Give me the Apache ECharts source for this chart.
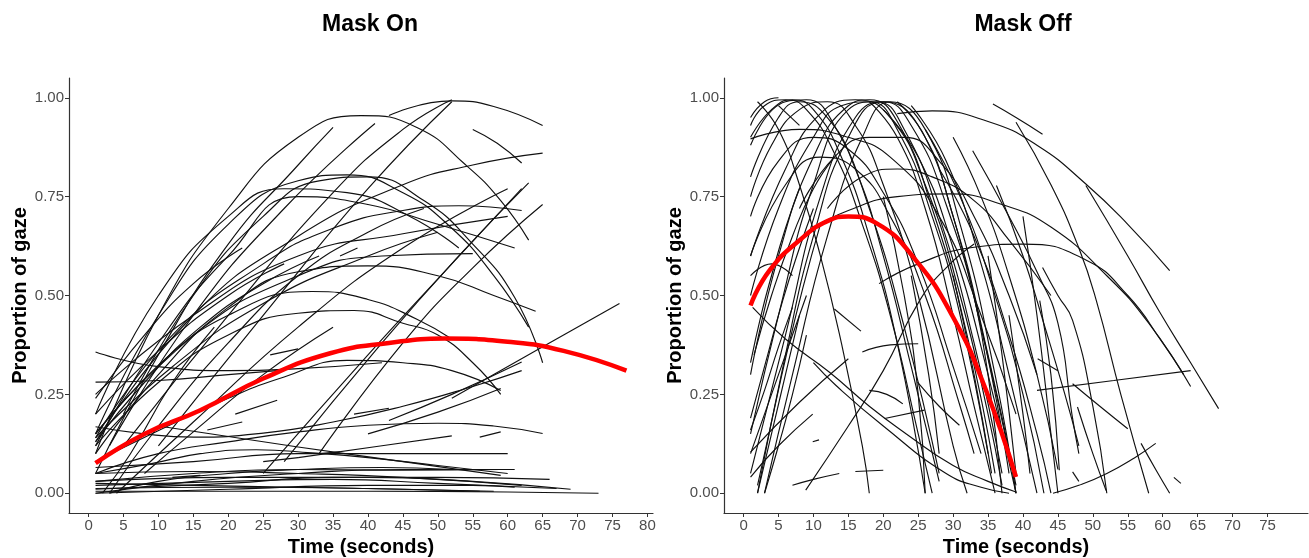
<!DOCTYPE html>
<html>
<head>
<meta charset="utf-8">
<title>Mask On / Mask Off gaze</title>
<script src="https://cdn.jsdelivr.net/npm/echarts@6/dist/echarts.min.js"></script>
<style>
  html, body { margin: 0; padding: 0; background: #fff; }
  #chart { width: 1309px; height: 558px; }
</style>
</head>
<body>
<div id="chart"></div>
<script>
// x ticks (seconds) and y ticks (proportion)
const xTicksOn = [0, 5, 10, 15, 20, 25, 30, 35, 40, 45, 50, 55, 60, 65, 70, 75, 80];
const xTicksOff = [0, 5, 10, 15, 20, 25, 30, 35, 40, 45, 50, 55, 60, 65, 70, 75];
const yTicks = [0, 0.25, 0.5, 0.75, 1];

// group mean curves (red)
const maskOnMean = [[1, 0.076], [8, 0.15], [16, 0.21], [25, 0.29], [34.6, 0.354], [43, 0.38], [51, 0.391], [60, 0.383], [68, 0.36], [77, 0.31]];
const maskOffMean = [[1, 0.475], [3.7, 0.563], [8.5, 0.647], [12, 0.688], [15, 0.7], [19, 0.683], [24.7, 0.588], [30, 0.445], [34.5, 0.27], [39, 0.041]];

// individual trial curves (black), each is a list of [time, proportion]
const maskOnTrials = [
  [[1, 0.1], [10, 0.45], [20, 0.72], [30, 0.9], [39, 0.955], [47, 0.925], [54, 0.83], [59, 0.74], [63, 0.64]],
  [[43, 0.955], [52, 0.992], [58, 0.978], [65, 0.93]],
  [[5, 0.12], [20, 0.45], [35, 0.76], [45, 0.92], [52, 0.995]],
  [[10, 0.12], [25, 0.45], [40, 0.77], [52, 0.99]],
  [[1, 0.05], [10, 0.35], [20, 0.63], [30, 0.83], [35, 0.925]],
  [[3, 0.12], [15, 0.45], [28, 0.72], [41, 0.935]],
  [[1, 0.15], [10, 0.45], [20, 0.68], [30, 0.79], [37, 0.805], [45, 0.76], [52, 0.67], [58, 0.55], [63, 0.42]],
  [[1, 0.2], [10, 0.5], [20, 0.7], [28, 0.77], [37, 0.76], [46, 0.7], [53, 0.62]],
  [[25, 0.05], [40, 0.35], [52, 0.58], [62, 0.77]],
  [[28, 0.08], [42, 0.38], [53, 0.6], [63, 0.785]],
  [[33, 0.1], [45, 0.38], [55, 0.57], [65, 0.73]],
  [[4, 0.0], [15, 0.18], [30, 0.42], [45, 0.62], [60, 0.77]],
  [[1, 0.13], [15, 0.45], [30, 0.65], [45, 0.78], [55, 0.83], [65, 0.86]],
  [[55, 0.92], [58.5, 0.885], [62, 0.835]],
  [[5, 0.2], [15, 0.5], [25, 0.7], [33, 0.79], [40, 0.8], [48, 0.74], [55, 0.63], [61, 0.495], [65, 0.33]],
  [[1, 0.14], [12, 0.4], [25, 0.58], [35, 0.67], [45, 0.715], [53, 0.727], [62, 0.715]],
  [[1, 0.25], [15, 0.45], [30, 0.6], [45, 0.656], [60, 0.7]],
  [[1, 0.12], [10, 0.38], [20, 0.6], [30, 0.75], [40, 0.73], [50, 0.68], [61, 0.62]],
  [[1, 0.15], [15, 0.4], [30, 0.55], [42, 0.6], [55, 0.606]],
  [[1, 0.1], [10, 0.3], [20, 0.47], [30, 0.56], [40, 0.575], [50, 0.55], [58, 0.5], [64, 0.46]],
  [[1, 0.15], [10, 0.32], [20, 0.45], [32, 0.51], [40, 0.49], [47, 0.44], [52, 0.39]],
  [[1, 0.12], [10, 0.28], [20, 0.4], [30, 0.455], [38, 0.462], [45, 0.43], [50, 0.4], [55, 0.33], [59, 0.25]],
  [[1, 0.08], [9, 0.15], [20, 0.24], [28, 0.294], [37, 0.336], [45, 0.33], [52, 0.31], [59, 0.26]],
  [[1, 0.168], [8, 0.15], [15, 0.142], [25, 0.152], [35, 0.18], [45, 0.22], [55, 0.27], [62, 0.31]],
  [[1, 0.357], [10, 0.32], [20, 0.31], [30, 0.315], [42, 0.33]],
  [[1, 0.281], [10, 0.285], [20, 0.3], [27, 0.31]],
  [[1, 0.05], [10, 0.1], [20, 0.13], [30, 0.155], [40, 0.172], [50, 0.177], [58, 0.17], [65, 0.151]],
  [[1, 0.05], [9, 0.075], [16, 0.1], [24, 0.11], [32, 0.102], [40, 0.09], [50, 0.07], [60, 0.05]],
  [[1, 0.065], [15, 0.08], [30, 0.1], [45, 0.1], [60, 0.1]],
  [[10, 0.17], [30, 0.117], [45, 0.08], [59, 0.045]],
  [[30, 0.09], [42, 0.12], [52, 0.145]],
  [[1, 0.005], [20, 0.005], [40, 0.005], [60, 0.003], [73, 0.0]],
  [[1, 0.03], [20, 0.04], [40, 0.04], [55, 0.03], [69, 0.01]],
  [[1, 0.02], [20, 0.03], [35, 0.035], [50, 0.025], [67, 0.012]],
  [[1, 0.01], [20, 0.025], [35, 0.04], [50, 0.04], [66, 0.035]],
  [[1, 0.0], [15, 0.03], [30, 0.05], [45, 0.06], [61, 0.06]],
  [[1, 0.03], [15, 0.05], [30, 0.06], [45, 0.058], [59, 0.06]],
  [[1, 0.0], [20, 0.01], [40, 0.02], [55, 0.02], [61, 0.015]],
  [[3, 0.0], [10, 0.03], [20, 0.05], [30, 0.06], [42, 0.065], [52, 0.06]],
  [[1, 0.025], [15, 0.02], [30, 0.015], [45, 0.01], [58, 0.005]],
  [[1, 0.05], [15, 0.055], [30, 0.05], [45, 0.04], [62, 0.02]],
  [[1, 0.012], [20, 0.015], [40, 0.012], [56, 0.005]],
  [[52, 0.24], [64, 0.36], [76, 0.48]],
  [[43, 0.184], [52, 0.25], [62, 0.332]],
  [[40, 0.15], [50, 0.205], [59, 0.265]],
  [[56, 0.142], [59, 0.155]],
  [[1, 0.24], [8, 0.4], [15, 0.53], [22, 0.62]],
  [[1, 0.13], [8, 0.28], [16, 0.42], [25, 0.53], [33, 0.6]],
  [[2, 0.0], [6, 0.1], [12, 0.28], [18, 0.42]],
  [[1, 0.2], [10, 0.36], [20, 0.5], [28, 0.58]],
  [[1, 0.14], [12, 0.32], [25, 0.48], [40, 0.6], [50, 0.66]],
  [[36, 0.6], [38.5, 0.62]],
  [[3, 0.0], [10, 0.17], [20, 0.38], [30, 0.55], [40, 0.66], [48, 0.72]],
  [[8, 0.05], [15, 0.155], [25, 0.3], [35, 0.42]],
  [[26, 0.35], [30, 0.365]],
  [[21, 0.2], [27, 0.235]],
  [[17, 0.16], [22, 0.18]],
  [[38, 0.2], [43, 0.215]],
  [[25, 0.08], [30, 0.09]],
  [[33, 0.1], [36, 0.105]],
  [[12, 0.04], [16, 0.045]]
];

const maskOffTrials = [
  [[1, 0.9], [4, 0.97], [7, 0.995], [10, 0.97], [14, 0.85], [18, 0.65], [22, 0.38], [26, 0.0]],
  [[1, 0.93], [3, 0.98], [6, 0.995], [9, 0.97], [13, 0.86], [17, 0.68], [21, 0.45], [25, 0.15], [27, 0.0]],
  [[1, 0.8], [5, 0.95], [8, 0.99], [12, 0.95], [16, 0.82], [20, 0.6], [24, 0.32], [28, 0.03]],
  [[1, 0.88], [6, 0.99], [9, 0.995], [13, 0.93], [18, 0.72], [23, 0.42], [28, 0.05]],
  [[1, 0.75], [4, 0.88], [8, 0.97], [12, 0.99], [16, 0.93], [20, 0.78], [25, 0.5], [30, 0.12], [32, 0.0]],
  [[1, 0.15], [5, 0.45], [10, 0.78], [15, 0.97], [19, 0.99], [23, 0.92], [28, 0.7], [33, 0.38], [37, 0.05]],
  [[1, 0.3], [5, 0.6], [10, 0.85], [15, 0.98], [18, 0.995], [22, 0.94], [27, 0.72], [32, 0.4], [36, 0.05]],
  [[2, 0.0], [6, 0.35], [10, 0.65], [15, 0.9], [20, 0.99], [25, 0.93], [30, 0.7], [35, 0.35], [39, 0.02]],
  [[3, 0.0], [7, 0.3], [12, 0.65], [17, 0.9], [21, 0.99], [26, 0.92], [31, 0.68], [36, 0.3], [39, 0.0]],
  [[1, 0.05], [6, 0.4], [11, 0.75], [16, 0.95], [20, 0.99], [24, 0.93], [29, 0.73], [34, 0.42], [38, 0.05]],
  [[1, 0.5], [5, 0.72], [10, 0.9], [14, 0.98], [18, 0.99], [22, 0.92], [27, 0.7], [31, 0.45], [35, 0.1]],
  [[1, 0.6], [6, 0.82], [11, 0.96], [16, 0.995], [21, 0.95], [26, 0.78], [31, 0.5], [35, 0.2], [37, 0.02]],
  [[1, 0.7], [5, 0.84], [10, 0.9], [15, 0.87], [20, 0.76], [25, 0.58], [30, 0.32], [34, 0.1]],
  [[1, 0.6], [6, 0.78], [11, 0.85], [16, 0.82], [21, 0.7], [26, 0.5], [31, 0.22], [33, 0.1]],
  [[1, 0.896], [8, 0.92], [15, 0.9], [21, 0.85], [28, 0.7], [34, 0.45], [39, 0.2]],
  [[8, 0.72], [13, 0.85], [18, 0.9], [23, 0.9], [28, 0.84], [33, 0.7], [38, 0.5], [42, 0.3]],
  [[18, 0.99], [22, 0.9], [26, 0.72], [30, 0.45], [33, 0.22], [36, 0.0]],
  [[22, 0.99], [26, 0.9], [30, 0.7], [34, 0.42], [38, 0.1], [39, 0.0]],
  [[20, 0.97], [25, 0.85], [30, 0.62], [35, 0.3], [39, 0.0]],
  [[24, 0.98], [29, 0.84], [34, 0.58], [38, 0.3], [42, 0.0]],
  [[26, 0.92], [31, 0.75], [36, 0.5], [40, 0.25], [43, 0.0]],
  [[28, 0.82], [33, 0.65], [38, 0.4], [42, 0.15], [44, 0.0]],
  [[30, 0.9], [34, 0.75], [38, 0.55], [42, 0.3], [45, 0.06]],
  [[32.8, 0.866], [38, 0.7], [42, 0.56], [45, 0.43], [47, 0.2], [48, 0.1]],
  [[39, 0.938], [44, 0.78], [48, 0.62], [50.5, 0.487], [54, 0.25], [58, 0.0]],
  [[36.2, 0.778], [40, 0.6], [42.8, 0.44], [46, 0.25], [48, 0.12]],
  [[42.8, 0.571], [45, 0.5], [47.1, 0.437], [50, 0.22], [52, 0.0]],
  [[35.7, 0.984], [39, 0.95], [42.8, 0.908]],
  [[22, 0.96], [27, 0.967], [35, 0.94], [42, 0.88], [49, 0.782], [55, 0.68], [61, 0.563]],
  [[49, 0.778], [55, 0.6], [59.5, 0.46], [64, 0.33], [68, 0.214]],
  [[10, 0.67], [15, 0.715], [22, 0.75], [29.5, 0.757], [37, 0.73], [44, 0.673], [52, 0.55], [58, 0.43], [64, 0.27]],
  [[19.4, 0.53], [25, 0.58], [33, 0.622], [40, 0.63], [49, 0.59], [55, 0.5], [60, 0.38], [63, 0.3]],
  [[12, 0.72], [17, 0.8], [22, 0.82], [27, 0.8], [33, 0.74], [38, 0.64], [44, 0.5]],
  [[1.3, 0.47], [6, 0.39], [12.3, 0.306], [18, 0.22], [23.3, 0.15], [30, 0.07], [35, 0.03], [39, 0.003]],
  [[10, 0.33], [13.2, 0.273], [20, 0.17], [29, 0.05], [34, 0.015], [38, 0.0]],
  [[8.9, 0.008], [15, 0.17], [20, 0.31], [25.2, 0.487], [29, 0.57], [33, 0.63]],
  [[1, 0.104], [8, 0.23], [15, 0.34]],
  [[1, 0.041], [5, 0.12], [9.9, 0.2]],
  [[7, 0.02], [10, 0.035], [13.7, 0.05]],
  [[16, 0.055], [20, 0.058]],
  [[17, 0.357], [21, 0.375], [25, 0.378]],
  [[20.2, 0.189], [25.9, 0.21]],
  [[18, 0.26], [20.5, 0.25], [22.8, 0.226]],
  [[24.9, 0.281], [28, 0.22], [30.9, 0.172]],
  [[13, 0.466], [16.8, 0.41]],
  [[44.3, 0.0], [48, 0.02], [52, 0.05], [56, 0.09], [59, 0.126]],
  [[42, 0.26], [53, 0.285], [64, 0.31]],
  [[42.4, 0.487], [44, 0.3], [45.2, 0.058]],
  [[47.8, 0.218], [50, 0.1], [51.9, 0.007]],
  [[42.1, 0.34], [45, 0.31]],
  [[47.1, 0.277], [51, 0.22], [55, 0.163]],
  [[56.9, 0.126], [59, 0.06], [61, 0.0]],
  [[61.6, 0.04], [62.6, 0.025]],
  [[47.1, 0.054], [48, 0.03]],
  [[1, 0.19], [3, 0.32], [5.6, 0.487], [8, 0.62], [10, 0.72]],
  [[1.5, 0.35], [4, 0.5], [7, 0.65], [10, 0.77], [13, 0.85]],
  [[2, 0.0], [4, 0.15], [6, 0.3], [8, 0.45]],
  [[3, 0.0], [5, 0.12], [7, 0.25], [9, 0.4]],
  [[1, 0.1], [3, 0.2], [5, 0.3], [7, 0.4], [9, 0.5]],
  [[2, 0.99], [5, 0.92], [8, 0.78], [11, 0.6], [14, 0.38], [17, 0.12], [18, 0.0]],
  [[1, 0.55], [4, 0.58], [7, 0.55]],
  [[9.9, 0.13], [10.8, 0.135]],
  [[1, 0.95], [3, 0.99], [5, 1.0]],
  [[5, 0.98], [8, 0.93]],
  [[1, 0.16], [3, 0.26], [5, 0.37], [7, 0.47]],
  [[2, 0.02], [4, 0.18], [6, 0.34], [8.5, 0.52], [11, 0.68]],
  [[1, 0.33], [2.5, 0.45], [4, 0.55], [6, 0.67], [8, 0.77]],
  [[20, 0.75], [23, 0.5], [25, 0.25], [26, 0.0]],
  [[24, 0.55], [26.5, 0.3], [28, 0.1]],
  [[30, 0.55], [33, 0.3], [35.5, 0.05]],
  [[33, 0.5], [35, 0.3], [37, 0.0]],
  [[35, 0.6], [37, 0.35], [39, 0.05]],
  [[38, 0.45], [40, 0.2], [41, 0.05]],
  [[40, 0.7], [42, 0.45], [44, 0.15], [45, 0.0]]
];

const chart = echarts.init(document.getElementById('chart'));

const grey = '#4d4d4d';
const fontFamily = 'Liberation Sans, Arial, sans-serif';

function makeXAxis(gridIndex, ticks) {
  return {
    type: 'value',
    gridIndex: gridIndex,
    min: -2.8,
    max: 80.8,
    name: 'Time (seconds)',
    nameLocation: 'middle',
    nameGap: 22,
    nameTextStyle: { color: '#000', fontSize: 20, fontWeight: 'bold', fontFamily: fontFamily },
    axisLine: { show: true, onZero: false, lineStyle: { color: '#333', width: 1.2 } },
    axisTick: { show: true, length: 4, customValues: ticks, lineStyle: { color: '#333' } },
    axisLabel: { customValues: ticks, color: grey, fontSize: 15, margin: 5, fontFamily: fontFamily },
    splitLine: { show: false }
  };
}

function makeYAxis(gridIndex) {
  return {
    type: 'value',
    gridIndex: gridIndex,
    min: -0.05,
    max: 1.05,
    name: 'Proportion of gaze',
    nameLocation: 'middle',
    nameGap: 36,
    nameTextStyle: { color: '#000', fontSize: 20, fontWeight: 'bold', fontFamily: fontFamily },
    axisLine: { show: true, onZero: false, lineStyle: { color: '#333', width: 1.2 } },
    axisTick: { show: true, length: 4, customValues: yTicks, lineStyle: { color: '#333' } },
    axisLabel: {
      customValues: yTicks, color: grey, fontSize: 15, margin: 5, fontFamily: fontFamily,
      formatter: function (v) { return v.toFixed(2); }
    },
    splitLine: { show: false }
  };
}

function trialSeries(curves, idx) {
  return curves.map(function (pts) {
    return {
      type: 'line',
      xAxisIndex: idx,
      yAxisIndex: idx,
      data: pts,
      smooth: 0.5,
      symbol: 'none',
      silent: true,
      z: 2,
      lineStyle: { color: '#111', width: 1.15 }
    };
  });
}

function meanSeries(pts, idx) {
  return {
    type: 'line',
    xAxisIndex: idx,
    yAxisIndex: idx,
    data: pts,
    smooth: 0.5,
    symbol: 'none',
    silent: true,
    z: 5,
    lineStyle: { color: '#ff0000', width: 4.5 }
  };
}

chart.setOption({
  animation: false,
  backgroundColor: '#fff',
  title: [
    { text: 'Mask On', left: 365, top: 8, textAlign: 'center',
      textStyle: { fontSize: 23, fontWeight: 'bold', color: '#000', fontFamily: fontFamily } },
    { text: 'Mask Off', left: 1018, top: 8, textAlign: 'center',
      textStyle: { fontSize: 23, fontWeight: 'bold', color: '#000', fontFamily: fontFamily } }
  ],
  grid: [
    { left: 69, top: 78, width: 584, height: 435, containLabel: false, outerBoundsMode: 'none' },
    { left: 724, top: 78, width: 584, height: 435, containLabel: false, outerBoundsMode: 'none' }
  ],
  xAxis: [makeXAxis(0, xTicksOn), makeXAxis(1, xTicksOff)],
  yAxis: [makeYAxis(0), makeYAxis(1)],
  series: []
    .concat(trialSeries(maskOnTrials, 0))
    .concat(trialSeries(maskOffTrials, 1))
    .concat([meanSeries(maskOnMean, 0), meanSeries(maskOffMean, 1)])
});
</script>
</body>
</html>
